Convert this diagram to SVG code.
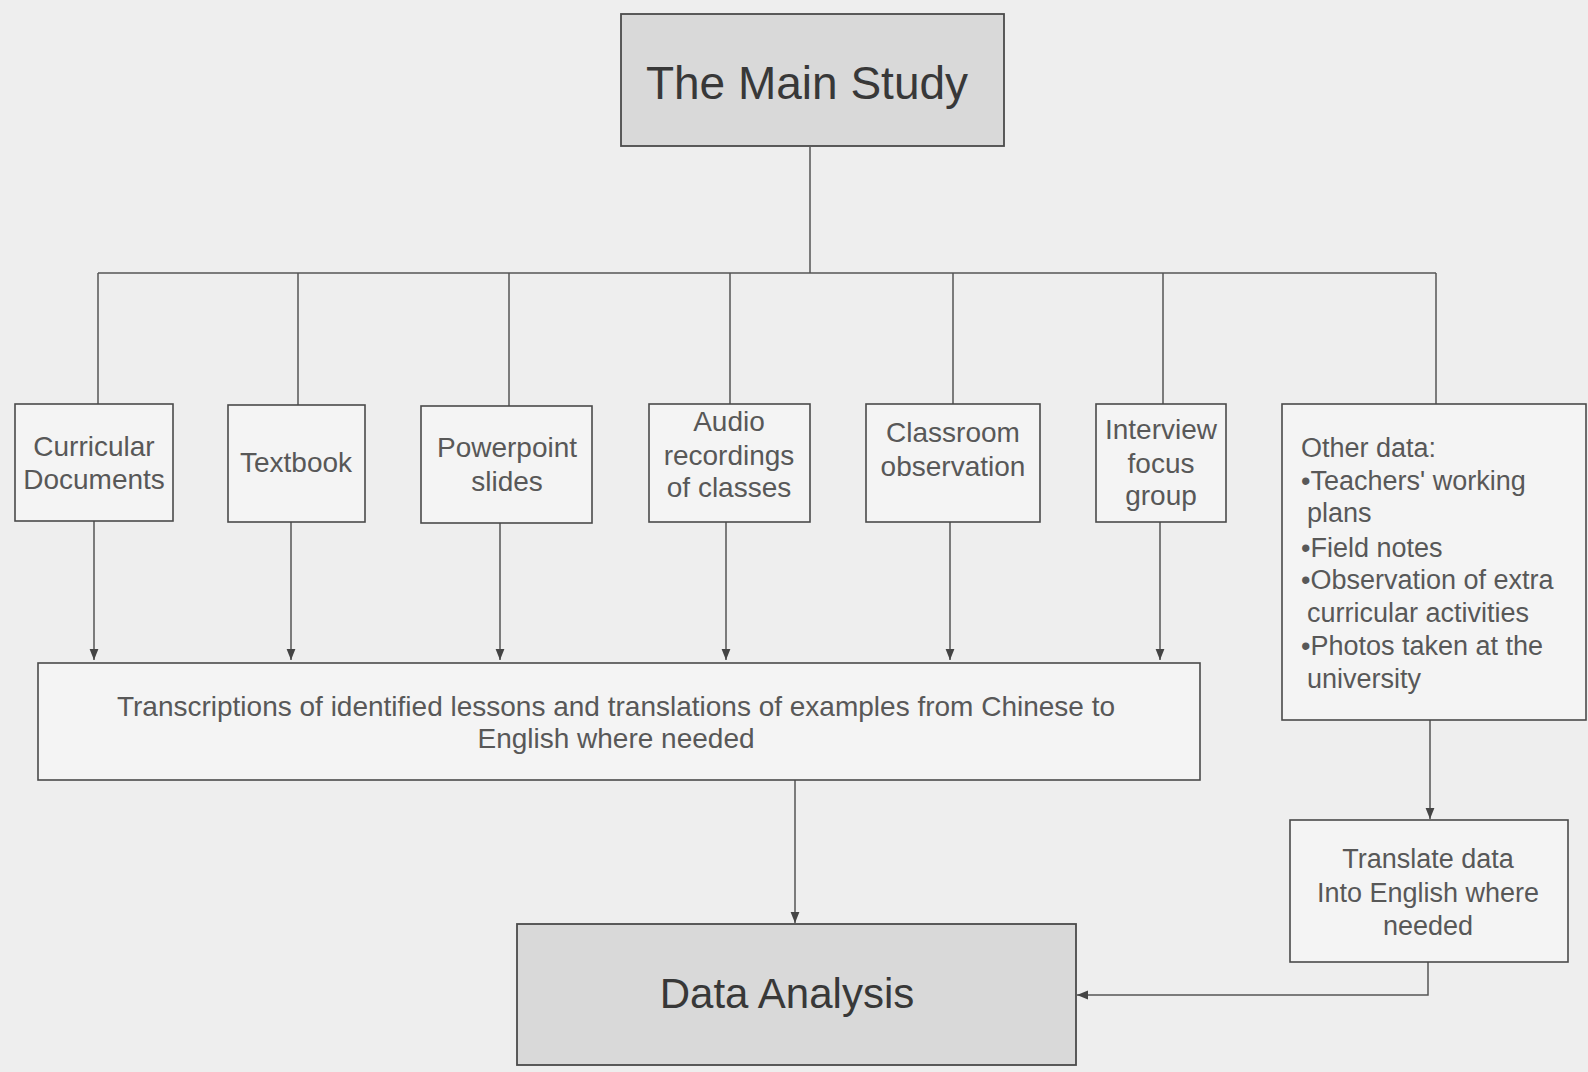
<svg xmlns="http://www.w3.org/2000/svg" width="1588" height="1072" viewBox="0 0 1588 1072">
<style>
  .bx { fill: #f4f4f4; stroke: #4a4a4a; stroke-width: 1.6; }
  .gbx { fill: #d9d9d9; stroke: #4a4a4a; stroke-width: 1.8; }
  .t { font-family: "Liberation Sans", Arial, sans-serif; font-size: 27px; fill: #585858; text-anchor: middle; }
  .m { font-family: "Liberation Sans", Arial, sans-serif; font-size: 28px; fill: #585858; text-anchor: middle; }
  .tl { font-family: "Liberation Sans", Arial, sans-serif; font-size: 27px; fill: #585858; }
  .big { font-family: "Liberation Sans", Arial, sans-serif; fill: #383838; text-anchor: middle; }
  .ln { fill: none; stroke: #555; stroke-width: 1.5; }
</style>
<defs>
  <marker id="ah" viewBox="0 0 10 10" refX="10" refY="5" markerWidth="11" markerHeight="11" markerUnits="userSpaceOnUse" orient="auto">
    <path d="M0,1 L10,5 L0,9 Z" fill="#444"/>
  </marker>
</defs>
<rect width="1588" height="1072" fill="#eeeeee"/>

<g id="connectors">
  <path class="ln" d="M810,147 V273"/>
  <path class="ln" d="M98,273 H1436"/>
  <path class="ln" d="M98,273 V404"/>
  <path class="ln" d="M298,273 V405"/>
  <path class="ln" d="M509,273 V406"/>
  <path class="ln" d="M730,273 V404"/>
  <path class="ln" d="M953,273 V404"/>
  <path class="ln" d="M1163,273 V404"/>
  <path class="ln" d="M1436,273 V404"/>
  <path class="ln" d="M94,521 V660" marker-end="url(#ah)"/>
  <path class="ln" d="M291,522 V660" marker-end="url(#ah)"/>
  <path class="ln" d="M500,523 V660" marker-end="url(#ah)"/>
  <path class="ln" d="M726,522 V660" marker-end="url(#ah)"/>
  <path class="ln" d="M950,522 V660" marker-end="url(#ah)"/>
  <path class="ln" d="M1160,522 V660" marker-end="url(#ah)"/>
  <path class="ln" d="M795,780 V923" marker-end="url(#ah)"/>
  <path class="ln" d="M1430,720 V819" marker-end="url(#ah)"/>
  <path class="ln" d="M1428,962 V995 H1077" marker-end="url(#ah)"/>
</g>

<g id="main-study">
  <rect class="gbx" x="621" y="14" width="383" height="132"/>
  <text class="big" x="807" y="99" font-size="46">The Main Study</text>
</g>

<g id="curricular">
  <rect class="bx" x="15" y="404" width="158" height="117"/>
  <text class="m" x="94" y="456">Curricular</text>
  <text class="m" x="94" y="489">Documents</text>
</g>

<g id="textbook">
  <rect class="bx" x="228" y="405" width="137" height="117"/>
  <text class="m" x="296" y="472">Textbook</text>
</g>

<g id="powerpoint">
  <rect class="bx" x="421" y="406" width="171" height="117"/>
  <text class="m" x="507" y="457">Powerpoint</text>
  <text class="m" x="507" y="491">slides</text>
</g>

<g id="audio">
  <rect class="bx" x="649" y="404" width="161" height="118"/>
  <text class="m" x="729" y="431">Audio</text>
  <text class="m" x="729" y="465">recordings</text>
  <text class="m" x="729" y="497">of classes</text>
</g>

<g id="classroom">
  <rect class="bx" x="866" y="404" width="174" height="118"/>
  <text class="m" x="953" y="442">Classroom</text>
  <text class="m" x="953" y="476">observation</text>
</g>

<g id="interview">
  <rect class="bx" x="1096" y="404" width="130" height="118"/>
  <text class="m" x="1161" y="439">Interview</text>
  <text class="m" x="1161" y="473">focus</text>
  <text class="m" x="1161" y="505">group</text>
</g>

<g id="other-data">
  <rect class="bx" x="1282" y="404" width="304" height="316"/>
  <text class="tl" x="1301" y="457">Other data:</text>
  <text class="tl" x="1301" y="490">•Teachers' working</text>
  <text class="tl" x="1307" y="522">plans</text>
  <text class="tl" x="1301" y="557">•Field notes</text>
  <text class="tl" x="1301" y="589">•Observation of extra</text>
  <text class="tl" x="1307" y="622">curricular activities</text>
  <text class="tl" x="1301" y="655">•Photos taken at the</text>
  <text class="tl" x="1307" y="688">university</text>
</g>

<g id="transcriptions">
  <rect class="bx" x="38" y="663" width="1162" height="117"/>
  <text class="m" x="616" y="716">Transcriptions of identified lessons and translations of examples from Chinese to</text>
  <text class="m" x="616" y="748">English where needed</text>
</g>

<g id="translate">
  <rect class="bx" x="1290" y="820" width="278" height="142"/>
  <text class="t" x="1428" y="868">Translate data</text>
  <text class="t" x="1428" y="902">Into English where</text>
  <text class="t" x="1428" y="935">needed</text>
</g>

<g id="data-analysis">
  <rect class="gbx" x="517" y="924" width="559" height="141"/>
  <text class="big" x="787" y="1008" font-size="42">Data Analysis</text>
</g>
</svg>
